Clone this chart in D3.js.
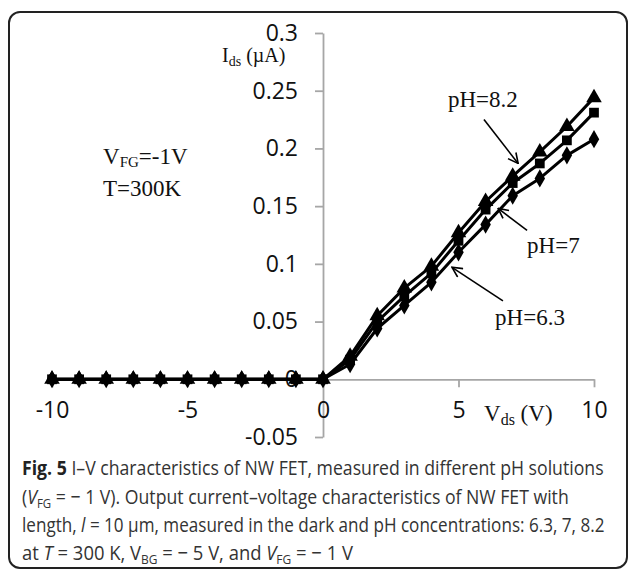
<!DOCTYPE html>
<html>
<head>
<meta charset="utf-8">
<script src="https://cdn.jsdelivr.net/npm/d3@7"></script>
<style>
  body { margin: 0; background: #fff; }
  svg { display: block; }
</style>
</head>
<body>
<div id="chart"></div>
<script>
// --- Data: Ids vs Vds for three pH solutions ---
const vds = [-10, -9, -8, -7, -6, -5, -4, -3, -2, -1, 0, 1, 2, 3, 4, 5, 6, 7, 8, 9, 10];
const ph82 = [0, 0, 0, 0, 0, 0, 0, 0, 0, 0, 0, 0.020, 0.055, 0.079, 0.098, 0.127, 0.154, 0.176, 0.197, 0.219, 0.244];
const ph7  = [0, 0, 0, 0, 0, 0, 0, 0, 0, 0, 0, 0.017, 0.050, 0.072, 0.092, 0.120, 0.147, 0.170, 0.187, 0.207, 0.231];
const ph63 = [0, 0, 0, 0, 0, 0, 0, 0, 0, 0, 0, 0.013, 0.044, 0.064, 0.084, 0.110, 0.134, 0.159, 0.174, 0.194, 0.208];
const xTicks = [-10, -5, 0, 5, 10];
const yTicks = [-0.05, 0, 0.05, 0.1, 0.15, 0.2, 0.25, 0.3];

const series = [
  { name: "pH=6.3", values: ph63, symbol: d3.symbolDiamond, size: 95 },
  { name: "pH=7",   values: ph7,  symbol: d3.symbolSquare,  size: 95 },
  { name: "pH=8.2", values: ph82, symbol: d3.symbolTriangle, size: 105 }
];

// arrow annotations, in data units: label anchor, arrow start, arrow tip
const notes = [
  { text: "pH=8.2", lx: 4.61, ly: 0.236, x1: 5.94, y1: 0.225, x2: 7.20, y2: 0.187 },
  { text: "pH=7",   lx: 7.53, ly: 0.109, x1: 7.53, y1: 0.129, x2: 6.46, y2: 0.148 },
  { text: "pH=6.3", lx: 6.35, ly: 0.047, x1: 6.64, y1: 0.068, x2: 4.76, y2: 0.097 }
];

const W = 630, H = 575;
const svg = d3.select("#chart").append("svg")
  .attr("width", W)
  .attr("height", H);

// rounded frame round figure + caption
svg.append("rect")
  .attr("x", 9).attr("y", 12)
  .attr("width", 618).attr("height", 556)
  .attr("rx", 11)
  .attr("fill", "none")
  .attr("stroke", "#222")
  .attr("stroke-width", 2);

// scales
const x = d3.scaleLinear().domain([-10, 10]).range([52, 594]);
const y = d3.scaleLinear().domain([-0.05, 0.3]).range([437, 33]);

const axisColor = "#a6a6a6";

// y axis sits on x = 0
const yAxis = svg.append("g")
  .attr("transform", `translate(${x(0)},0)`)
  .call(d3.axisLeft(y).tickValues(yTicks).tickSize(8).tickSizeOuter(0).tickPadding(17)
    .tickFormat(d => String(+d.toFixed(2))));

// x axis sits on y = 0
const xAxis = svg.append("g")
  .attr("transform", `translate(0,${y(0)})`)
  .call(d3.axisBottom(x).tickValues(xTicks).tickSize(8).tickSizeOuter(0).tickPadding(14)
    .tickFormat(d => String(d)));

[yAxis, xAxis].forEach(g => {
  g.select(".domain").attr("stroke", axisColor).attr("stroke-width", 1.8);
  g.selectAll(".tick line").attr("stroke", axisColor).attr("stroke-width", 1.8);
  g.selectAll(".tick text")
    .attr("fill", "#111")
    .style("font-family", "'Open Sans', sans-serif")
    .style("font-size", "23px");
});

// lines + markers
const line = d3.line()
  .x((d, i) => x(vds[i]))
  .y(d => y(d));

series.forEach(s => {
  svg.append("path")
    .datum(s.values)
    .attr("fill", "none")
    .attr("stroke", "#000")
    .attr("stroke-width", 3)
    .attr("stroke-linejoin", "round")
    .attr("d", line);
});

series.forEach(s => {
  svg.selectAll(null)
    .data(s.values)
    .enter()
    .append("path")
    .attr("transform", (d, i) => `translate(${x(vds[i])},${y(d)})`)
    .attr("d", d3.symbol().type(s.symbol).size(s.size))
    .attr("fill", "#000");
});

// arrowhead
svg.append("defs").append("marker")
  .attr("id", "arr")
  .attr("viewBox", "0 0 12 12")
  .attr("refX", 11).attr("refY", 6)
  .attr("markerWidth", 12).attr("markerHeight", 12)
  .attr("markerUnits", "userSpaceOnUse")
  .attr("orient", "auto")
  .append("path")
  .attr("d", "M1,1 L11,6 L1,11")
  .attr("fill", "none")
  .attr("stroke", "#000")
  .attr("stroke-width", 1.6);

const serif = "'Liberation Serif', 'Times New Roman', serif";

notes.forEach(n => {
  svg.append("line")
    .attr("x1", x(n.x1)).attr("y1", y(n.y1))
    .attr("x2", x(n.x2)).attr("y2", y(n.y2))
    .attr("stroke", "#000")
    .attr("stroke-width", 1.6)
    .attr("marker-end", "url(#arr)");
  svg.append("text")
    .attr("x", x(n.lx)).attr("y", y(n.ly))
    .style("font-family", serif)
    .style("font-size", "23px")
    .attr("fill", "#111")
    .text(n.text);
});

// axis titles
const yTitle = svg.append("text")
  .attr("x", 222).attr("y", 62)
  .style("font-family", serif)
  .style("font-size", "20px")
  .attr("fill", "#111");
yTitle.append("tspan").text("I");
yTitle.append("tspan").attr("dy", 4).style("font-size", "14px").text("ds");
yTitle.append("tspan").attr("dy", -4).text(" (\u00b5A)");

const xTitle = svg.append("text")
  .attr("x", 484).attr("y", 421)
  .style("font-family", serif)
  .style("font-size", "23px")
  .attr("fill", "#111");
xTitle.append("tspan").text("V");
xTitle.append("tspan").attr("dy", 4).style("font-size", "16px").text("ds");
xTitle.append("tspan").attr("dy", -4).text(" (V)");

// conditions
const cond1 = svg.append("text")
  .attr("x", 103).attr("y", 164)
  .style("font-family", serif)
  .style("font-size", "23px")
  .attr("fill", "#111");
cond1.append("tspan").text("V");
cond1.append("tspan").attr("dy", 3).style("font-size", "15px").text("FG");
cond1.append("tspan").attr("dy", -3).text("=-1V");

svg.append("text")
  .attr("x", 103).attr("y", 196)
  .style("font-family", serif)
  .style("font-size", "23px")
  .attr("fill", "#111")
  .text("T=300K");

// caption, squeezed horizontally to match the condensed journal font
const capFont = "'Open Sans', sans-serif";
const caption = [
  { y: 475, w: 582, parts: [["Fig. 5", "b"], [" I\u2013V characteristics of NW FET, measured in different pH solutions"]] },
  { y: 504, w: 547, parts: [["("], ["V", "i"], ["FG", "sub"], [" = \u2212 1 V). Output current\u2013voltage characteristics of NW FET with"]] },
  { y: 532, w: 583, parts: [["length, "], ["l", "i"], [" = 10 \u00b5m, measured in the dark and pH concentrations: 6.3, 7, 8.2"]] },
  { y: 560, w: 331, parts: [["at "], ["T", "i"], [" = 300 K, V"], ["BG", "sub"], [" = \u2212 5 V, and "], ["V", "i"], ["FG", "sub"], [" = \u2212 1 V"]] }
];

caption.forEach(c => {
  const g = svg.append("g");
  const t = g.append("text")
    .attr("x", 0).attr("y", 0)
    .style("font-family", capFont)
    .style("font-size", "20px")
    .attr("fill", "#333");
  let shifted = false;
  c.parts.forEach(([txt, st]) => {
    const ts = t.append("tspan").text(txt);
    if (st === "sub") {
      ts.attr("dy", 4).style("font-size", "13px");
      shifted = true;
    } else if (shifted) {
      ts.attr("dy", -4);
      shifted = false;
    }
    if (st === "b") ts.style("font-weight", "bold").attr("fill", "#222");
    if (st === "i") ts.style("font-style", "italic");
  });
  const natural = t.node().getComputedTextLength();
  g.attr("transform", `translate(22,${c.y}) scale(${c.w / natural},1)`);
});
</script>
</body>
</html>
